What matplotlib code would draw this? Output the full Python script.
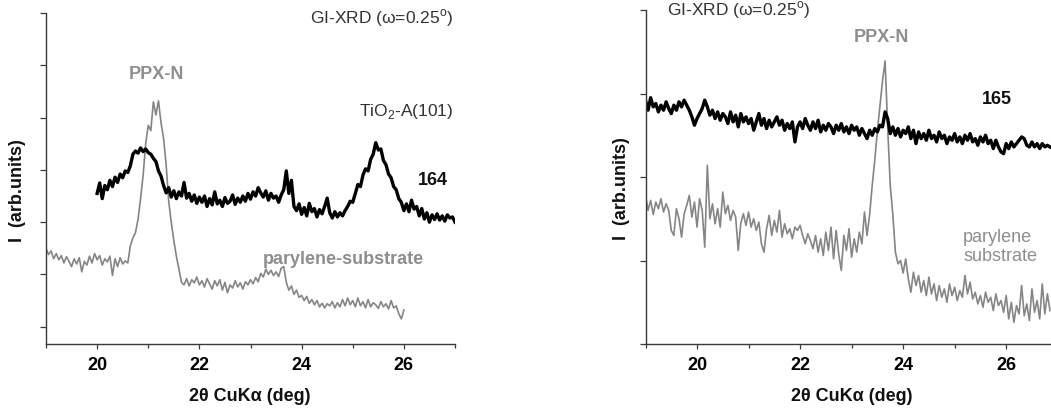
import numpy as np
import matplotlib
matplotlib.use("Agg")
import matplotlib.pyplot as plt
from matplotlib.ticker import MultipleLocator, NullFormatter

plt.rcParams['font.family'] = ['Liberation Sans', 'DejaVu Sans']
plt.rcParams['mathtext.fontset'] = 'custom'
plt.rcParams['mathtext.rm'] = 'Liberation Sans'
plt.rcParams['mathtext.bf'] = 'Liberation Sans:bold'

# ---- sample 164 (left panel), intensities in arb. units ----
x164_start, step = 20.0, 0.05
y164 = [2.55, 2.75, 2.45, 2.70, 2.62, 2.80, 2.68, 2.86, 2.76, 2.92,
        2.85, 2.98, 2.95, 3.08, 3.30, 3.36, 3.32, 3.42, 3.35, 3.40,
        3.33, 3.30, 3.22, 3.16, 2.98, 2.88, 2.70, 2.56, 2.66, 2.48,
        2.60, 2.45, 2.58, 2.50, 2.76, 2.46, 2.55, 2.40, 2.52, 2.36,
        2.48, 2.38, 2.50, 2.30, 2.45, 2.33, 2.58, 2.35, 2.42, 2.30,
        2.47, 2.36, 2.40, 2.52, 2.34, 2.46, 2.38, 2.50, 2.40, 2.55,
        2.44, 2.58, 2.50, 2.66, 2.56, 2.48, 2.60, 2.42, 2.55, 2.46,
        2.50, 2.38, 2.52, 2.62, 2.98, 2.55, 2.80, 2.30, 2.22, 2.35,
        2.15, 2.28, 2.12, 2.36, 2.20, 2.26, 2.10, 2.24, 2.16, 2.30,
        2.46, 2.18, 2.08, 2.20, 2.10, 2.18, 2.12, 2.22, 2.30, 2.40,
        2.38, 2.55, 2.72, 2.68, 2.90, 3.02, 2.98, 3.20, 3.30, 3.52,
        3.38, 3.40, 3.18, 3.10, 2.92, 2.85, 2.68, 2.62, 2.45, 2.38,
        2.22, 2.35, 2.20, 2.42, 2.25, 2.30, 2.12, 2.26, 2.06, 2.18,
        2.00, 2.14, 2.05, 2.16, 2.04, 2.12, 2.02, 2.14, 2.08, 2.10,
        2.00]

# parylene substrate (left panel)
xsub1_start = 19.0
ysub1 = [1.50, 1.38, 1.45, 1.30, 1.40, 1.28, 1.36, 1.22, 1.34, 1.25,
         1.15, 1.30, 1.20, 1.32, 1.05, 1.25, 1.18, 1.35, 1.22, 1.40,
         1.28, 1.36, 1.18, 1.30, 1.24, 1.35, 0.98, 1.30, 1.15, 1.32,
         1.20, 1.26, 1.22, 1.55, 1.70, 1.80, 2.05, 2.45, 2.90, 3.50,
         3.85, 3.75, 4.30, 4.05, 4.32, 3.90, 3.60, 3.10, 2.40, 2.00,
         1.65, 1.35, 1.10, 0.85, 0.80, 0.92, 0.78, 0.90, 0.84, 0.95,
         0.80, 0.88, 0.76, 0.92, 0.82, 0.72, 0.88, 0.78, 0.90, 0.70,
         0.85, 0.65, 0.80, 0.74, 0.88, 0.76, 0.84, 0.72, 0.86, 0.80,
         0.90, 0.82, 0.94, 0.86, 1.02, 0.95, 1.10, 1.00, 1.08, 0.98,
         1.05, 0.96, 1.12, 1.15, 0.85, 0.70, 0.78, 0.62, 0.70, 0.56,
         0.60, 0.50, 0.58, 0.45, 0.52, 0.42, 0.50, 0.38, 0.45, 0.36,
         0.44, 0.40, 0.48, 0.36, 0.46, 0.38, 0.52, 0.40, 0.55, 0.42,
         0.50, 0.38, 0.55, 0.40, 0.48, 0.36, 0.52, 0.38, 0.46, 0.42,
         0.35, 0.48, 0.38, 0.44, 0.34, 0.50, 0.36, 0.40, 0.25, 0.15,
         0.32]

# ---- sample 165 (right panel) ----
x165_start = 19.0
y165 = [2.92, 2.80, 2.95, 2.84, 2.88, 2.78, 2.86, 2.80, 2.90, 2.82,
        2.76, 2.86, 2.80, 2.90, 2.84, 2.92, 2.86, 2.80, 2.72, 2.62,
        2.70, 2.76, 2.82, 2.92, 2.84, 2.74, 2.80, 2.70, 2.78, 2.68,
        2.76, 2.72, 2.64, 2.78, 2.66, 2.74, 2.60, 2.76, 2.66, 2.72,
        2.64, 2.70, 2.56, 2.66, 2.76, 2.62, 2.70, 2.58, 2.68, 2.60,
        2.66, 2.72, 2.62, 2.68, 2.56, 2.64, 2.58, 2.66, 2.42, 2.60,
        2.66, 2.58, 2.70, 2.62, 2.56, 2.66, 2.58, 2.68, 2.54, 2.62,
        2.56, 2.64, 2.60, 2.52, 2.62, 2.56, 2.64, 2.54, 2.60, 2.52,
        2.62, 2.56, 2.60, 2.50, 2.58, 2.52, 2.46, 2.56, 2.50, 2.58,
        2.54, 2.62, 2.60, 2.78, 2.70, 2.52, 2.60, 2.50, 2.58, 2.48,
        2.56, 2.52, 2.60, 2.46, 2.56, 2.40, 2.54, 2.46, 2.52, 2.44,
        2.56, 2.46, 2.50, 2.42, 2.54, 2.46, 2.50, 2.40, 2.48, 2.44,
        2.52, 2.42, 2.48, 2.40, 2.50, 2.44, 2.52, 2.42, 2.46, 2.38,
        2.48, 2.42, 2.50, 2.40, 2.44, 2.34, 2.44, 2.36, 2.30, 2.28,
        2.40, 2.34, 2.42, 2.36, 2.40, 2.44, 2.48, 2.46, 2.38, 2.36,
        2.42, 2.36, 2.40, 2.34, 2.40, 2.36, 2.38, 2.36]

xsub2_start = 19.0
ysub2 = [1.78, 1.60, 1.72, 1.55, 1.70, 1.62, 1.74, 1.58, 1.68, 1.60,
         1.36, 1.30, 1.62, 1.50, 1.28, 1.56, 1.66, 1.78, 1.52, 1.70,
         1.40, 1.74, 1.60, 1.16, 2.14, 1.50, 1.68, 1.44, 1.62, 1.40,
         1.82, 1.56, 1.66, 1.48, 1.60, 1.52, 1.12, 1.45, 1.56, 1.42,
         1.58, 1.40, 1.50, 1.36, 1.46, 1.20, 1.10, 1.38, 1.54, 1.30,
         1.48, 1.34, 1.60, 1.28, 1.44, 1.32, 1.38, 1.26, 1.40, 1.36,
         1.42, 1.30, 1.20, 1.32, 1.24, 1.14, 1.30, 1.10, 1.26, 1.06,
         1.34, 1.12, 1.40, 1.02, 1.36, 1.08, 0.88, 1.30, 1.12, 1.38,
         1.04, 1.26, 1.10, 1.34, 1.20, 1.58, 1.30, 1.55, 1.90, 2.20,
         2.55, 2.85, 3.15, 3.39, 2.60, 1.90, 1.55, 1.10, 0.96, 1.00,
         0.85, 1.02, 0.78, 0.62, 0.86, 0.70, 0.82, 0.62, 0.76, 0.58,
         0.80, 0.60, 0.72, 0.52, 0.70, 0.56, 0.66, 0.50, 0.72, 0.58,
         0.68, 0.52, 0.64, 0.56, 0.82, 0.60, 0.74, 0.54, 0.62, 0.48,
         0.58, 0.44, 0.62, 0.50, 0.56, 0.40, 0.60, 0.46, 0.52, 0.38,
         0.58, 0.30, 0.50, 0.26, 0.46, 0.36, 0.70, 0.34, 0.48, 0.28,
         0.66, 0.38, 0.52, 0.30, 0.72, 0.36, 0.60, 0.40]

xticks = [20, 22, 24, 26]
gray_line = '#858585'
gray_text = '#8e8e8e'
ax_col = '#3a3a3a'


def grid_x(start, vals):
    return start + step * np.arange(len(vals))


def style_axes(ax, ymax):
    for s in ['top', 'right']:
        ax.spines[s].set_visible(False)
    for s in ['left', 'bottom']:
        ax.spines[s].set_color(ax_col)
        ax.spines[s].set_linewidth(1.0)
    ax.set_xticks(xticks)
    ax.xaxis.set_minor_locator(MultipleLocator(1))
    ax.set_yticks(np.arange(0, ymax + 0.01, 1))
    ax.yaxis.set_major_formatter(NullFormatter())
    ax.tick_params(axis='x', which='major', length=3.5, width=0.9, color=ax_col,
                   pad=5, labelsize=13)
    ax.tick_params(axis='x', which='minor', length=2.8, width=0.9, color=ax_col)
    ax.tick_params(axis='y', which='major', length=4, width=0.9, color=ax_col)
    for lab in ax.get_xticklabels():
        lab.set_fontweight('bold')


fig = plt.figure(figsize=(10.51, 4.10), dpi=100)
ax1 = fig.add_axes([46/1051, 1-345/410, 409/1051, 331/410])
ax2 = fig.add_axes([645.5/1051, 1-345/410, 405.5/1051, 334/410])

# left panel
ax1.plot(grid_x(xsub1_start, ysub1), ysub1, color=gray_line, lw=1.2)
ax1.plot(grid_x(x164_start, y164), y164, color='black', lw=2.4)
ax1.set_xlim(19, 27)
ax1.set_ylim(-0.33, 6.0)
style_axes(ax1, 6)

ax1.text(0.995, 0.988, 'GI-XRD (ω=0.25$^{\\rm o}$)', transform=ax1.transAxes,
         ha='right', va='center', fontsize=12.5, color='#333333')
ax1.text(0.271, 0.816, 'PPX-N', transform=ax1.transAxes, ha='center', va='center',
         fontsize=13, fontweight='bold', color=gray_text)
ax1.text(0.995, 0.704, 'TiO$_2$-A(101)', transform=ax1.transAxes, ha='right',
         va='center', fontsize=12.5, color='#333333')
ax1.text(0.983, 0.498, '164', transform=ax1.transAxes, ha='right', va='center',
         fontsize=13, fontweight='bold', color='#111111')
ax1.text(0.531, 0.257, 'parylene-substrate', transform=ax1.transAxes, ha='left',
         va='center', fontsize=13, fontweight='bold', color=gray_text)

# right panel
ax2.plot(grid_x(xsub2_start, ysub2), ysub2, color=gray_line, lw=1.2)
ax2.plot(grid_x(x165_start, y165), y165, color='black', lw=2.4)
ax2.set_xlim(19, 26.87)
ax2.set_ylim(0, 4)
style_axes(ax2, 4)

ax2.text(0.053, 1.003, 'GI-XRD (ω=0.25$^{\\rm o}$)', transform=ax2.transAxes,
         ha='left', va='center', fontsize=12.5, color='#333333')
ax2.text(0.583, 0.922, 'PPX-N', transform=ax2.transAxes, ha='center', va='center',
         fontsize=13, fontweight='bold', color=gray_text)
ax2.text(0.867, 0.734, '165', transform=ax2.transAxes, ha='center', va='center',
         fontsize=13, fontweight='bold', color='#111111')
ax2.text(0.783, 0.293, 'parylene\nsubstrate', transform=ax2.transAxes, ha='left',
         va='center', fontsize=13, color=gray_text, linespacing=1.1)

# axis labels
for xc, yc in [(18, 191), (622, 189)]:
    fig.text(xc/1051, 1-yc/410, 'I  (arb.units)', rotation=90, ha='center',
             va='center', fontsize=13, fontweight='bold', color='#111111')
for xc in [250, 852]:
    fig.text(xc/1051, 1-397/410, '2θ CuKα (deg)', ha='center', va='center',
             fontsize=13, fontweight='bold', color='#111111')

fig.savefig('out.png', dpi=100)
